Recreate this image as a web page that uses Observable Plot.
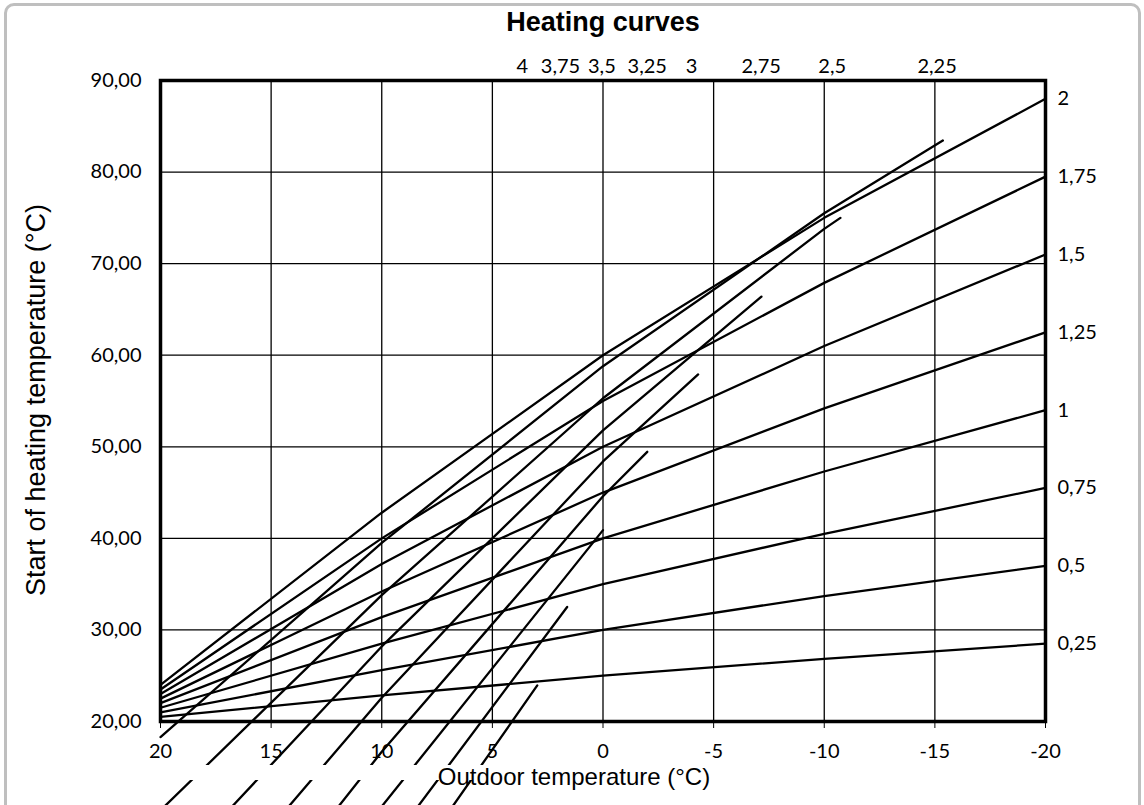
<!DOCTYPE html>
<html>
<head>
<meta charset="utf-8">
<script src="https://cdn.jsdelivr.net/npm/d3@7"></script>
<script src="https://cdn.jsdelivr.net/npm/@observablehq/plot@0.6"></script>
<style>
  html, body { margin: 0; padding: 0; background: #fff; overflow: hidden; }
  #wrap { position: relative; width: 1144px; height: 805px; overflow: hidden; }
  #chart { position: absolute; left: 0; top: 0; }
  .txt { position: absolute; font-family: "Liberation Sans", Arial, sans-serif; color: #000; white-space: nowrap; transform: translate(-50%, -50%); }
  #title { left: 603px; top: 22px; font-size: 27px; font-weight: bold; }
  #ytitle { left: 36px; top: 400px; font-size: 27px; transform: translate(-50%, -50%) rotate(-90deg); }
  #xtitle { left: 574px; top: 777px; font-size: 24px; z-index: 3; }
  #band { position: absolute; left: 150px; top: 765px; width: 890px; height: 15px; background: #fff; z-index: 2; }
  #border { position: absolute; left: 4px; top: 3px; width: 1131px; height: 840px; border: 3px solid #bfbfbf; border-radius: 10px; z-index: 5; pointer-events: none; }
</style>
</head>
<body>
<div id="wrap">
  <div id="chart"></div>
  <div id="band"></div>
  <div class="txt" id="title">Heating curves</div>
  <div class="txt" id="ytitle">Start of heating temperature (°C)</div>
  <div class="txt" id="xtitle">Outdoor temperature (°C)</div>
  <div id="border"></div>
</div>
<script>
// Outdoor temperatures at which the flat heating curves are read
const outdoorTemps = [20, 10, 0, -10, -20];

// Flat heating curves (labels on the right side)
const curveLabels = ["0,25", "0,5", "0,75", "1", "1,25", "1,5", "1,75", "2"];
const curve025 = [20.5, 22.85, 25.0, 26.85, 28.5];
const curve050 = [21.0, 25.6, 30.0, 33.7, 37.0];
const curve075 = [21.5, 28.5, 35.0, 40.5, 45.5];
const curve100 = [22.0, 31.4, 40.0, 47.3, 54.0];
const curve125 = [22.5, 34.2, 45.0, 54.2, 62.5];
const curve150 = [23.0, 37.2, 50.0, 61.0, 71.0];
const curve175 = [23.5, 40.0, 55.0, 67.9, 79.5];
const curve200 = [24.0, 42.8, 60.0, 75.0, 88.0];
const curveValues = [curve025, curve050, curve075, curve100, curve125, curve150, curve175, curve200];

// Steep heating curves (labels along the top); each is a list of [outdoor, flow] readings
const steepLabels = ["2,25", "2,5", "2,75", "3", "3,25", "3,5", "3,75", "4"];
const steep225 = [[20, 18.3], [10, 39.5], [0, 58.8], [-10, 75.5], [-15.36, 83.44]];
const steep250 = [[20, 10.3], [10, 33.8], [0, 55.3], [-10, 73.8], [-10.73, 75.0]];
const steep275 = [[17.04, 10.0], [10, 28.2], [0, 51.8], [-7.16, 66.4]];
const steep300 = [[14.46, 10.0], [10, 22.6], [0, 48.4], [-4.3, 57.9]];
const steep325 = [[12.19, 10.0], [10, 16.7], [0, 44.6], [-2.0, 49.45]];
const steep350 = [[10.24, 10.0], [0, 40.9]];
const steep375 = [[8.59, 10.0], [1.62, 32.5]];
const steep400 = [[7.01, 10.0], [2.97, 23.94]];
const steepValues = [steep225, steep250, steep275, steep300, steep325, steep350, steep375, steep400];
const topLabelX = [-15.1, -10.36, -7.15, -4.0, -2.0, 0.05, 1.92, 3.65];

// Axis ticks
const xTicks = [20, 15, 10, 5, 0, -5, -10, -15, -20];
const yTicks = [20, 30, 40, 50, 60, 70, 80, 90];

const flatRows = [];
curveLabels.forEach((label, i) => {
  outdoorTemps.forEach((t, j) => flatRows.push({curve: label, x: t, y: curveValues[i][j]}));
});
const steepRows = [];
steepLabels.forEach((label, i) => {
  steepValues[i].forEach(([x, y]) => steepRows.push({curve: label, x, y}));
});
const last = outdoorTemps.length - 1;
const rightLabels = curveLabels.map((label, i) => ({label, x: outdoorTemps[last], y: curveValues[i][last]}));
const topLabels = steepLabels.map((label, i) => ({label, x: topLabelX[i]}));

const commaFmt = d => d3.format(".2f")(d).replace(".", ",");

const chart = Plot.plot({
  width: 1144,
  height: 805,
  marginTop: 80,
  marginRight: 99,
  marginBottom: 84,
  marginLeft: 160,
  style: {fontFamily: "Lato, 'Noto Sans', sans-serif", fontSize: "20px", background: "transparent", color: "#000"},
  x: {domain: [20, -20], axis: null},
  y: {domain: [20, 90], axis: null},
  marks: [
    Plot.gridX(xTicks.slice(1, -1), {stroke: "#000", strokeOpacity: 1, strokeWidth: 1.3}),
    Plot.gridY(yTicks.slice(1, -1), {stroke: "#000", strokeOpacity: 1, strokeWidth: 1.3}),
    Plot.line(flatRows, {x: "x", y: "y", z: "curve", stroke: "#000", strokeWidth: 2.3}),
    Plot.line(steepRows, {x: "x", y: "y", z: "curve", stroke: "#000", strokeWidth: 2.3}),
    Plot.frame({stroke: "#000", strokeWidth: 3.5}),
    Plot.axisX({ticks: xTicks, tickFormat: d => String(d), tickSize: 7, tickPadding: 15, fontSize: 20, label: null}),
    Plot.axisY({ticks: yTicks, tickFormat: commaFmt, tickSize: 0, tickPadding: 19, fontSize: 20, label: null}),
    Plot.text(rightLabels, {x: "x", y: "y", text: "label", dx: 12, textAnchor: "start", fontSize: 20}),
    Plot.text(topLabels, {x: "x", frameAnchor: "top", text: "label", dy: -14, lineAnchor: "middle", fontSize: 20})
  ]
});
document.getElementById("chart").appendChild(chart);
</script>
</body>
</html>
